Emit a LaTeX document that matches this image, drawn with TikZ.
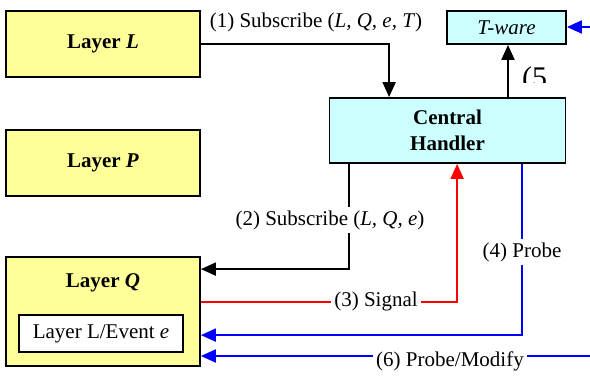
\documentclass[tikz,border=0pt]{standalone}
\usepackage{fontspec}
\setmainfont{Liberation Serif}
\usetikzlibrary{arrows.meta,calc}

\definecolor{layeryellow}{HTML}{FFFF99}
\definecolor{handlercyan}{HTML}{CCFFFF}
\definecolor{probeblue}{HTML}{0000FF}
\definecolor{signalred}{HTML}{FF0000}

\tikzset{
  txt/.style={font=\fontsize{21}{25}\selectfont},
  layerbox/.style={draw=black, line width=1.8pt, fill=layeryellow,
    minimum width=194pt, minimum height=66pt, inner sep=0pt,
    font=\fontsize{21}{25}\selectfont\bfseries},
  cyanbox/.style={draw=black, line width=1.8pt, fill=handlercyan,
    inner sep=0pt, align=center},
  eventbox/.style={draw=black, line width=1.6pt, fill=white,
    minimum width=164pt, minimum height=37pt, inner sep=0pt, txt},
  conn/.style={line width=2pt, -{Triangle[length=15pt,width=13pt]}},
  lbl/.style={txt, inner sep=2pt},
  gaplbl/.style={lbl, fill=white, inner sep=3pt}
}

\begin{document}
\begin{tikzpicture}[x=1pt, y=-1pt]
  \useasboundingbox (0,0) rectangle (590,377);

  % layers on the left
  \node[layerbox] (layerL) at (103,44) {Layer \textit{L}};
  \node[layerbox] (layerP) at (103,163) {Layer \textit{P}};
  \node[layerbox, minimum height=109pt] (layerQ) at (103,311.5) {};
  \node[font=\fontsize{21}{25}\selectfont\bfseries] (layerQtitle) at (103,283) {Layer \textit{Q}};
  \node[eventbox] (event) at (101,333.5) {Layer L/Event \textit{e}};

  % handler and T-ware
  \node[cyanbox, minimum width=236pt, minimum height=65pt,
        font=\fontsize{21}{26}\selectfont\bfseries] (handler) at (447.5,130.5) {Central\\Handler};
  \node[cyanbox, minimum width=119pt, minimum height=33pt,
        font=\fontsize{21}{25}\selectfont\itshape] (tware) at (506.5,27.5) {T-ware};

  % (1) subscribe from layer L to the handler
  \draw[conn] (layerL.east) -| ($(handler.north west)+(60.5,0)$);
  \node[lbl] (l1) at (316,22) {(1) Subscribe (\textit{L, Q, e, T})};

  % (5) handler to T-ware
  \draw[conn] ($(tware.south |- handler.north)+(1.5,0)$) -- ($(tware.south)+(1.5,0)$);
  \begin{scope}
    \clip (515,55) rectangle (560,83);
    \node[font=\fontsize{30}{36}\selectfont, anchor=base west, inner sep=0pt] (l5) at (522,88) {(5};
  \end{scope}

  % incoming probe into T-ware
  \coordinate (twin) at (590,27);
  \draw[conn, color=probeblue] (twin) -- (tware.east |- twin);

  % (2) subscribe from handler down to layer Q
  \draw[conn] ($(handler.south west)+(20.5,0)$) |- ($(layerQ.north east)+(0,13)$);
  \node[gaplbl] (l2) at (330,220) {(2) Subscribe (\textit{L, Q, e})};

  % (3) signal from layer Q to handler
  \draw[conn, color=signalred] ($(layerQ.north east)+(0,46)$) -| ($(handler.south west)+(128.5,0)$);
  \node[gaplbl] (l3) at (376,301) {(3) Signal};

  % (4) probe from handler to layer Q
  \draw[conn, color=probeblue] ($(handler.south west)+(193.5,0)$) |- ($(layerQ.north east)+(0,79)$);
  \node[gaplbl] (l4) at (522,252) {(4) Probe};

  % (6) probe/modify arriving from the right
  \coordinate (pmin) at (590,356);
  \draw[conn, color=probeblue] (pmin) -- (layerQ.east |- pmin);
  \node[gaplbl] (l6) at (450,361) {(6) Probe/Modify};
\end{tikzpicture}
\end{document}
